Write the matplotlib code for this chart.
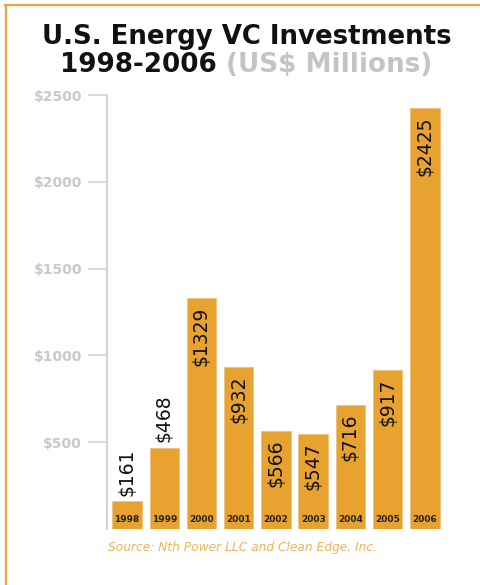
import matplotlib.pyplot as plt
import matplotlib.lines as mlines
import numpy as np

# data
years = ["1998", "1999", "2000", "2001", "2002", "2003", "2004", "2005", "2006"]
invest = [161, 468, 1329, 932, 566, 547, 716, 917, 2425]
labels_above = [True, True, False, False, False, False, False, False, False]
yticks = [500, 1000, 1500, 2000, 2500]

orange = "#E8A230"
grey = "#c9c9c9"

fig = plt.figure(figsize=(4.8, 5.85), dpi=100)
ax = fig.add_axes([0.2229, 0.0957, 0.7041, 0.7419])

x = np.arange(len(years))
ax.bar(x, invest, width=0.79, color=orange, edgecolor="#f1c27a", linewidth=0.6)

ax.set_xlim(-0.537, 8.54)
ax.set_ylim(0, 2500)
ax.set_yticks(yticks)
ax.set_yticklabels(["$%d" % v for v in yticks], color=grey, fontsize=10, fontweight="bold")
ax.set_xticks([])
for s in ["top", "right", "bottom"]:
    ax.spines[s].set_visible(False)
ax.spines["left"].set_color("#d4d4d4")
ax.spines["left"].set_linewidth(1.5)
ax.tick_params(axis="y", length=14, width=1.2, color="#d4d4d4", pad=4)

# value labels + year labels
for xi, v, yr, above in zip(x, invest, years, labels_above):
    if above:
        ax.annotate("$%d" % v, (xi, v), xytext=(0, 4), textcoords="offset points",
                    rotation=90, ha="center", va="bottom", fontsize=13.5, color="#111111")
    else:
        ax.annotate("$%d" % v, (xi, v), xytext=(0, -6), textcoords="offset points",
                    rotation=90, ha="center", va="top", fontsize=13.5, color="#111111")
    ax.annotate(yr, (xi, 0), xytext=(0, 6.5), textcoords="offset points",
                ha="center", va="center", fontsize=6.5, fontweight="bold", color="#222222")

# title, second line in two colours
fig.text(0.514, 1 - 37 / 585, "U.S. Energy VC Investments", ha="center", va="center",
         fontsize=18.7, fontweight="bold", color="#111111")
t1 = fig.text(60 / 480, 1 - 65 / 585, "1998-2006", ha="left", va="center",
              fontsize=18.9, fontweight="bold", color="#111111")
ax.annotate("(US$ Millions)", xy=(1, 0), xycoords=t1, xytext=(7, 0),
            textcoords="offset points", ha="left", va="bottom",
            fontsize=18.9, fontweight="bold", color="#c4c4c4", annotation_clip=False)

# source
fig.text(108 / 480, 1 - 548 / 585, "Source: Nth Power LLC and Clean Edge, Inc.",
         ha="left", va="center", fontsize=8.8, style="italic", color="#F0B458")

# frame lines
fig.add_artist(mlines.Line2D([5 / 480, 1], [1 - 5 / 585, 1 - 5 / 585], color="#EBA83A", lw=1.6))
fig.add_artist(mlines.Line2D([6 / 480, 6 / 480], [0, 1 - 5 / 585], color="#EBA83A", lw=1.6))

fig.savefig("out.png", dpi=100)
